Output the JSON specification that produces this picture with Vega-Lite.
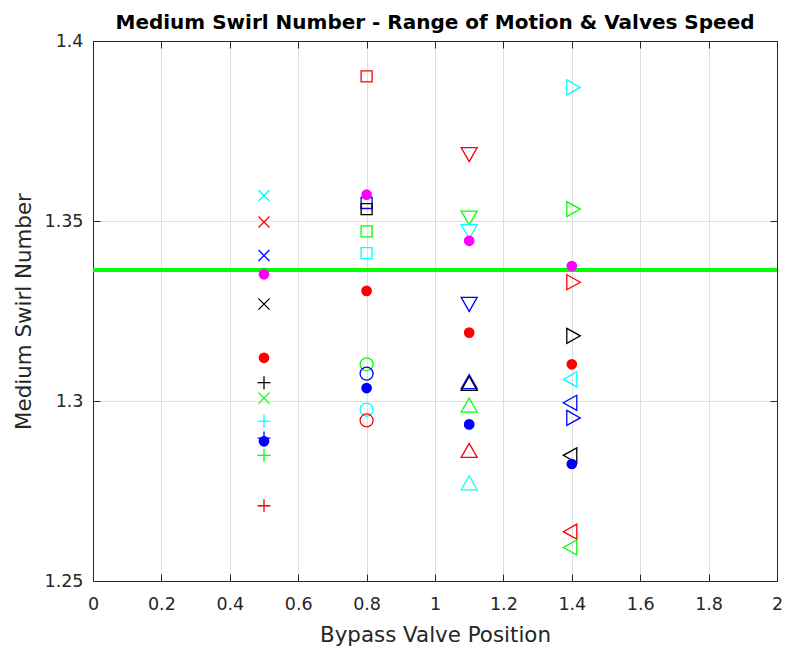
{
  "$schema": "https://vega.github.io/schema/vega-lite/v6.json",
  "autosize": {"type": "none"},
  "width": 684,
  "height": 540,
  "padding": {"left": 93, "top": 41, "right": 8, "bottom": 69},
  "background": "white",
  "title": {"text": "Medium Swirl Number - Range of Motion & Valves Speed", "font": "DejaVu Sans", "fontSize": 20, "fontWeight": "bold", "color": "#000000", "anchor": "middle", "offset": -1},
  "config": {
    "view": {"stroke": null},
    "axis": {"labelFont": "DejaVu Sans", "titleFont": "DejaVu Sans", "labelFontSize": 17.5, "titleFontSize": 21.4, "titleFontWeight": "normal", "labelColor": "#262626", "titleColor": "#262626", "domainColor": "#262626", "tickColor": "#262626", "gridColor": "#dfdfdf", "gridOpacity": 1, "domainWidth": 1, "tickWidth": 1, "tickSize": -7, "labelPadding": 17}
  },
  "datasets": {
    "markers": [
      {"valve": 0.5, "swirl": 1.3571, "group": "G1", "series": "Speed 4"},
      {"valve": 0.5, "swirl": 1.3497, "group": "G1", "series": "Speed 1"},
      {"valve": 0.5, "swirl": 1.3404, "group": "G1", "series": "Speed 3"},
      {"valve": 0.5, "swirl": 1.3269, "group": "G1", "series": "Speed 5"},
      {"valve": 0.5, "swirl": 1.3008, "group": "G1", "series": "Speed 2"},
      {"valve": 0.5, "swirl": 1.3051, "group": "G2", "series": "Speed 5"},
      {"valve": 0.5, "swirl": 1.2944, "group": "G2", "series": "Speed 4"},
      {"valve": 0.5, "swirl": 1.2897, "group": "G2", "series": "Speed 3"},
      {"valve": 0.5, "swirl": 1.2849, "group": "G2", "series": "Speed 2"},
      {"valve": 0.5, "swirl": 1.2709, "group": "G2", "series": "Speed 1"},
      {"valve": 0.8, "swirl": 1.3902, "group": "G3", "series": "Speed 1"},
      {"valve": 0.8, "swirl": 1.3550, "group": "G3", "series": "Speed 3"},
      {"valve": 0.8, "swirl": 1.3533, "group": "G3", "series": "Speed 5"},
      {"valve": 0.8, "swirl": 1.3471, "group": "G3", "series": "Speed 2"},
      {"valve": 0.8, "swirl": 1.3411, "group": "G3", "series": "Speed 4"},
      {"valve": 0.8, "swirl": 1.3102, "group": "G4", "series": "Speed 2"},
      {"valve": 0.8, "swirl": 1.3076, "group": "G4", "series": "Speed 3"},
      {"valve": 0.8, "swirl": 1.2976, "group": "G4", "series": "Speed 4"},
      {"valve": 0.8, "swirl": 1.2946, "group": "G4", "series": "Speed 1"},
      {"valve": 1.1, "swirl": 1.3687, "group": "G5", "series": "Speed 1"},
      {"valve": 1.1, "swirl": 1.3511, "group": "G5", "series": "Speed 2"},
      {"valve": 1.1, "swirl": 1.3473, "group": "G5", "series": "Speed 4"},
      {"valve": 1.1, "swirl": 1.3271, "group": "G5", "series": "Speed 3"},
      {"valve": 1.1, "swirl": 1.3051, "group": "G6", "series": "Speed 3"},
      {"valve": 1.1, "swirl": 1.3046, "group": "G6", "series": "Speed 5"},
      {"valve": 1.1, "swirl": 1.2986, "group": "G6", "series": "Speed 2"},
      {"valve": 1.1, "swirl": 1.2860, "group": "G6", "series": "Speed 1"},
      {"valve": 1.1, "swirl": 1.2770, "group": "G6", "series": "Speed 4"},
      {"valve": 1.4, "swirl": 1.3871, "group": "G7", "series": "Speed 4"},
      {"valve": 1.4, "swirl": 1.3533, "group": "G7", "series": "Speed 2"},
      {"valve": 1.4, "swirl": 1.3330, "group": "G7", "series": "Speed 1"},
      {"valve": 1.4, "swirl": 1.3181, "group": "G7", "series": "Speed 5"},
      {"valve": 1.4, "swirl": 1.2953, "group": "G7", "series": "Speed 3"},
      {"valve": 1.4, "swirl": 1.3060, "group": "G8", "series": "Speed 4"},
      {"valve": 1.4, "swirl": 1.2995, "group": "G8", "series": "Speed 3"},
      {"valve": 1.4, "swirl": 1.2849, "group": "G8", "series": "Speed 5"},
      {"valve": 1.4, "swirl": 1.2637, "group": "G8", "series": "Speed 1"},
      {"valve": 1.4, "swirl": 1.2593, "group": "G8", "series": "Speed 2"}
    ],
    "dots": [
      {"valve": 0.5, "swirl": 1.3352, "series": "Mean"},
      {"valve": 0.5, "swirl": 1.3120, "series": "Upper"},
      {"valve": 0.5, "swirl": 1.2888, "series": "Lower"},
      {"valve": 0.8, "swirl": 1.3573, "series": "Mean"},
      {"valve": 0.8, "swirl": 1.3306, "series": "Upper"},
      {"valve": 0.8, "swirl": 1.3036, "series": "Lower"},
      {"valve": 1.1, "swirl": 1.3445, "series": "Mean"},
      {"valve": 1.1, "swirl": 1.3190, "series": "Upper"},
      {"valve": 1.1, "swirl": 1.2935, "series": "Lower"},
      {"valve": 1.4, "swirl": 1.3375, "series": "Mean"},
      {"valve": 1.4, "swirl": 1.3102, "series": "Upper"},
      {"valve": 1.4, "swirl": 1.2825, "series": "Lower"}
    ],
    "overall": [{"swirl": 1.3364}]
  },
  "layer": [
    {
      "data": {"name": "overall"},
      "mark": {"type": "rule", "color": "#00ff00", "strokeWidth": 4},
      "encoding": {
        "y": {"field": "swirl", "type": "quantitative", "scale": {"domain": [1.25, 1.4], "nice": false, "zero": false}, "axis": null}
      }
    },
    {
      "data": {"name": "markers"},
      "mark": {"type": "point", "filled": false, "strokeWidth": 1.3, "size": 100, "opacity": 1},
      "encoding": {
        "x": {"field": "valve", "type": "quantitative", "scale": {"domain": [0, 2], "nice": false, "zero": false},
              "axis": {"orient": "bottom", "title": "Bypass Valve Position", "values": [0, 0.2, 0.4, 0.6, 0.8, 1, 1.2, 1.4, 1.6, 1.8, 2], "format": ".1~f", "grid": true, "labelPadding": 21, "titlePadding": 12, "labelFlush": false}},
        "y": {"field": "swirl", "type": "quantitative", "scale": {"domain": [1.25, 1.4], "nice": false, "zero": false},
              "axis": {"orient": "left", "title": "Medium Swirl Number", "values": [1.25, 1.3, 1.35, 1.4], "format": ".2~f", "grid": true, "titlePadding": 10, "labelFlush": false}},
        "color": {"field": "series", "type": "nominal", "legend": null,
                  "scale": {"domain": ["Speed 1", "Speed 2", "Speed 3", "Speed 4", "Speed 5", "Upper", "Mean", "Lower"],
                            "range": ["#ff0000", "#00ff00", "#0000ff", "#00ffff", "#000000", "#ff0000", "#ff00ff", "#0000ff"]}},
        "shape": {"field": "group", "type": "nominal", "legend": null,
                  "scale": {"domain": ["G1", "G2", "G3", "G4", "G5", "G6", "G7", "G8"],
                            "range": ["M-1.1,-1.1L1.1,1.1M-1.1,1.1L1.1,-1.1",
                                      "M-1.3,0L1.3,0M0,-1.3L0,1.3",
                                      "M-1.1,-1.1L1.1,-1.1L1.1,1.1L-1.1,1.1Z",
                                      "M1.3,0A1.3,1.3 0 1,1 -1.3,0A1.3,1.3 0 1,1 1.3,0Z",
                                      "M-1.6,-1.2L1.6,-1.2L0,1.6Z",
                                      "M-1.6,1.2L1.6,1.2L0,-1.6Z",
                                      "M-1,-1.5L1.7,0L-1,1.5Z",
                                      "M1,-1.5L-1.7,0L1,1.5Z"]}}
      }
    },
    {
      "data": {"name": "dots"},
      "mark": {"type": "point", "shape": "circle", "filled": true, "size": 115, "opacity": 1},
      "encoding": {
        "x": {"field": "valve", "type": "quantitative", "scale": {"domain": [0, 2], "nice": false, "zero": false},
              "axis": {"orient": "top", "title": null, "labels": false, "grid": false, "values": [0, 0.2, 0.4, 0.6, 0.8, 1, 1.2, 1.4, 1.6, 1.8, 2]}},
        "y": {"field": "swirl", "type": "quantitative", "scale": {"domain": [1.25, 1.4], "nice": false, "zero": false},
              "axis": {"orient": "right", "title": null, "labels": false, "grid": false, "values": [1.25, 1.3, 1.35, 1.4]}},
        "color": {"field": "series", "type": "nominal", "legend": null}
      }
    }
  ],
  "resolve": {"axis": {"x": "independent", "y": "independent"}}
}
